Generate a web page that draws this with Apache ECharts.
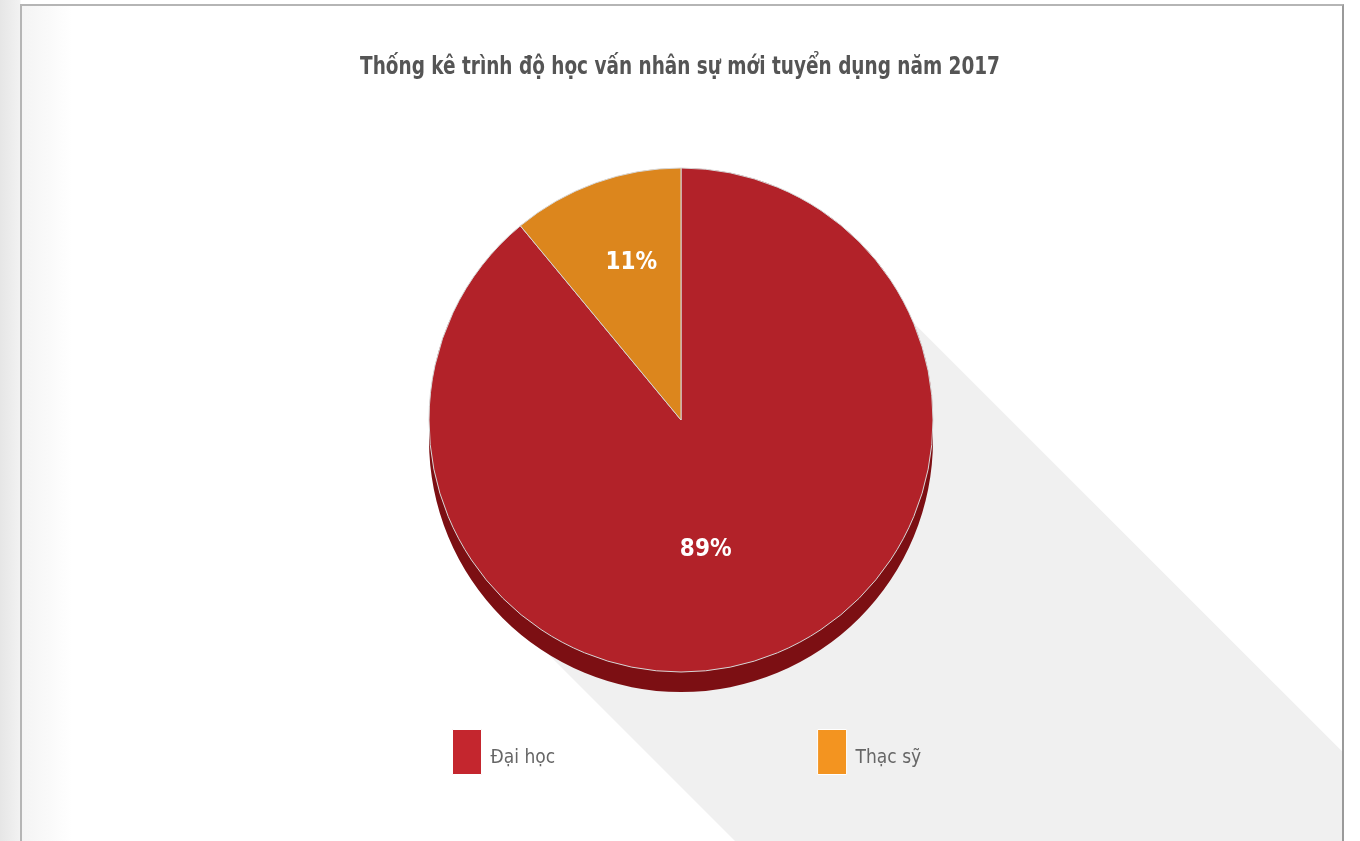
<!DOCTYPE html>
<html>
<head>
<meta charset="utf-8">
<script src="https://cdn.jsdelivr.net/npm/echarts@6/dist/echarts.min.js"></script>
<style>
  html, body { margin: 0; padding: 0; width: 1360px; height: 841px; overflow: hidden;
    background: linear-gradient(to right, #e6e6e6 0px, #f2f2f2 20px, #ffffff 21px); }
  #card { position: absolute; left: 20px; top: 4px; width: 1320px; height: 900px;
    border-left: 2px solid #b5b5b5; border-top: 2px solid #b5b5b5; border-right: 2px solid #9a9a9a;
    background: linear-gradient(to right, #f4f4f4 0px, #ffffff 50px); overflow: hidden; }
  #chart { position: absolute; left: 0; top: 0; width: 1320px; height: 835px; }
</style>
</head>
<body>
<div id="card"><div id="chart"></div></div>
<script>
const titleText = 'Thống kê trình độ học vấn nhân sự mới tuyển dụng năm 2017';
const categories = ['Đại học', 'Thạc sỹ'];
const values = [89, 11];
const topColors = ['#b22229', '#dc861d'];
const depthColors = ['#7c0f13', '#9a5a12'];
const legendColors = ['#c4262e', '#f39420'];

const FONT = "'Liberation Sans Narrow', 'DejaVu Sans Condensed', sans-serif";
const chart = echarts.init(document.getElementById('chart'), null, { renderer: 'canvas' });

const cx = 659, cy = 414, r = 252, depth = 20;
// long shadow band at 45 degrees behind the pie
const du = 0.925 * r / Math.SQRT2, dl = 1.03 * r / Math.SQRT2, L = 3000;
const shadowPts = [
  [cx + du, cy - du], [cx + du + L, cy - du + L],
  [cx - dl + L, cy + dl + L], [cx - dl, cy + dl]
];

const labelOffsets = [[-19, 8], [-6, -36]];

const topData = categories.map((name, i) => ({
  name, value: values[i],
  itemStyle: { color: topColors[i] },
  label: { offset: labelOffsets[i] }
}));
const depthData = categories.map((name, i) => ({
  name, value: values[i], itemStyle: { color: depthColors[i] }
}));

chart.setOption({
  animation: false,
  graphic: [{
    type: 'polygon', z: -10, silent: true,
    shape: { points: shadowPts },
    style: { fill: '#f0f0f0' }
  }, {
    type: 'text', z: 10, silent: true,
    x: 658, y: 62, scaleX: 0.855,
    style: { text: titleText, fontFamily: FONT, fontSize: 24, fontWeight: 'bold',
      fill: '#555555', align: 'center', verticalAlign: 'middle' }
  }],
  legend: {
    data: categories.map((n, i) => ({ name: n, itemStyle: { color: legendColors[i] } })),
    left: 425, top: 718, icon: 'rect', itemWidth: 29, itemHeight: 45, itemGap: 262,
    formatter: '{t|{name}}',
    textStyle: { fontFamily: FONT, fontSize: 19, color: '#666666',
      rich: { t: { fontFamily: FONT, fontSize: 19, color: '#666666', padding: [12, 0, 0, 4] } } },
    itemStyle: { borderColor: '#ffffff', borderWidth: 1 },
    selectedMode: false
  },
  series: [{
    type: 'pie', name: 'top', z: 3, center: [cx, cy], radius: r, startAngle: 90, clockwise: true,
    data: topData,
    itemStyle: { borderColor: '#d6d6d6', borderWidth: 1 },
    label: { show: true, position: 'inside', formatter: '{d}%', color: '#ffffff',
      fontFamily: FONT, fontSize: 24, fontWeight: 'bold' },
    labelLine: { show: false }, emphasis: { disabled: true }, silent: true
  }, {
    type: 'pie', name: 'depth', z: 2, center: [cx, cy + depth], radius: r, startAngle: 90, clockwise: true,
    data: depthData, label: { show: false }, labelLine: { show: false },
    emphasis: { disabled: true }, silent: true, legendHoverLink: false
  }]
});
</script>
</body>
</html>
